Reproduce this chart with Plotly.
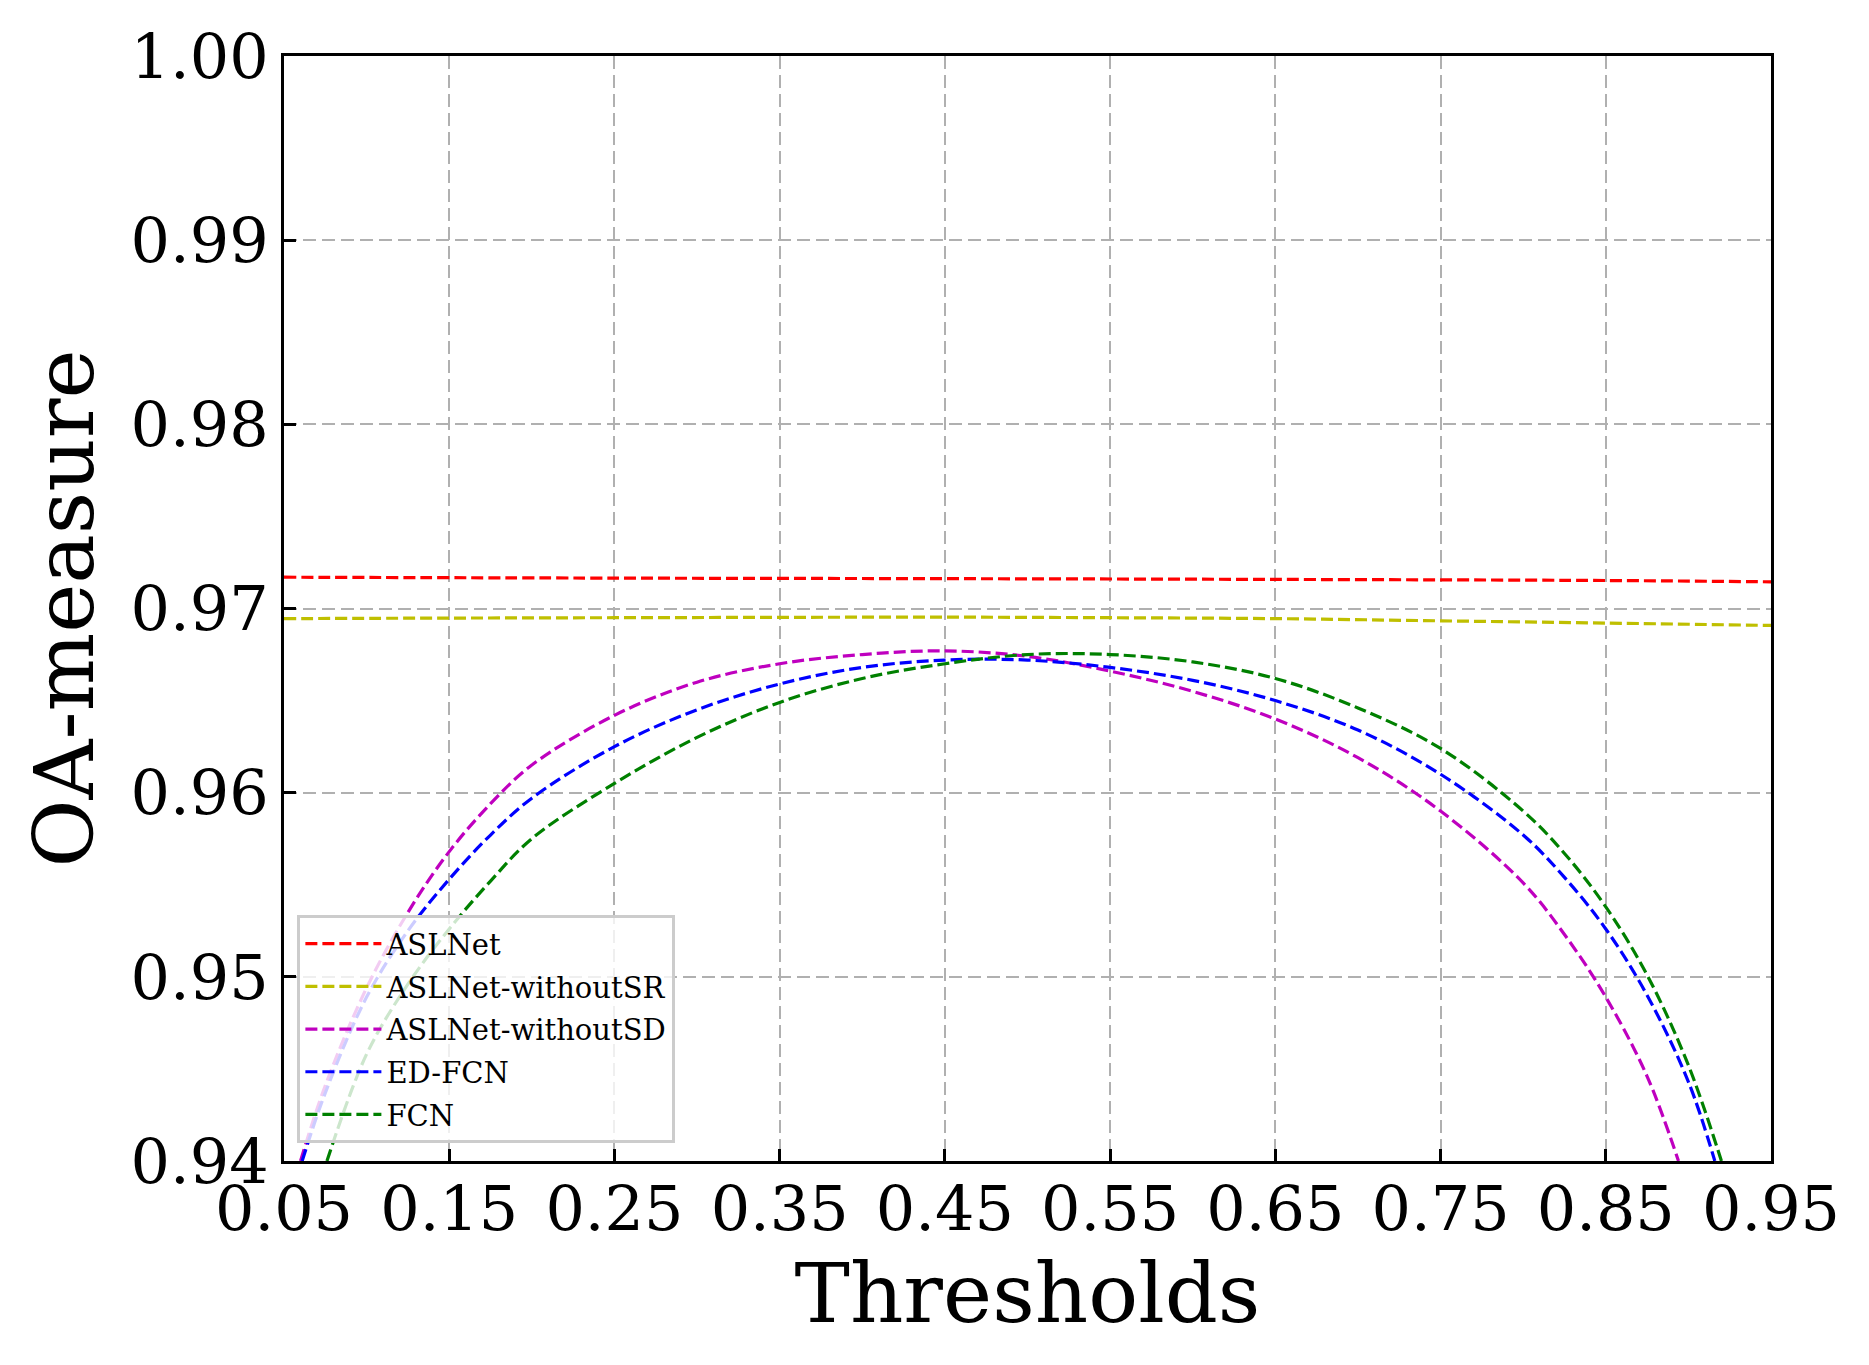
"""OA-measure vs threshold curves for the ASLNet ablation, redrawn with Plotly."""

import plotly.graph_objects as go

# ---- data ----
aslnet_x = [0.05, 0.25, 0.45, 0.65, 0.85, 0.95]
aslnet_y = [0.97170, 0.97165, 0.97162, 0.97158, 0.97152, 0.97145]

without_sr_x = [0.05, 0.15, 0.25, 0.35, 0.45, 0.55, 0.65, 0.75, 0.85, 0.95]
without_sr_y = [0.96945, 0.96948, 0.96950, 0.96952, 0.96953, 0.96950,
                0.96945, 0.96933, 0.96921, 0.96908]

without_sd_x = [0.060, 0.075, 0.10, 0.125, 0.15, 0.175, 0.20, 0.25, 0.30, 0.35,
                0.40, 0.45, 0.50, 0.55, 0.60, 0.65, 0.70, 0.75, 0.80, 0.825,
                0.85, 0.875, 0.894]
without_sd_y = [0.9400, 0.9441, 0.9494, 0.9535, 0.9568, 0.9594, 0.9615, 0.9642,
                0.9660, 0.9670, 0.9675, 0.9677, 0.9674, 0.9666, 0.9655, 0.9640,
                0.9619, 0.9590, 0.9551, 0.9523, 0.9489, 0.9446, 0.9400]

ed_fcn_x = [0.061, 0.075, 0.10, 0.125, 0.15, 0.175, 0.20, 0.25, 0.30, 0.35,
            0.40, 0.45, 0.50, 0.55, 0.60, 0.65, 0.70, 0.75, 0.80, 0.825,
            0.85, 0.875, 0.90, 0.916]
ed_fcn_y = [0.9400, 0.9437, 0.9489, 0.9525, 0.9553, 0.9577, 0.9597, 0.9625,
            0.9645, 0.9659, 0.9668, 0.9672, 0.9672, 0.9668, 0.9661, 0.9650,
            0.9634, 0.9610, 0.9577, 0.9554, 0.9526, 0.9490, 0.9443, 0.9400]

fcn_x = [0.076, 0.10, 0.125, 0.15, 0.175, 0.20, 0.25, 0.30, 0.35, 0.40,
         0.45, 0.50, 0.55, 0.60, 0.65, 0.70, 0.75, 0.80, 0.825, 0.85,
         0.875, 0.90, 0.92]
fcn_y = [0.9400, 0.9458, 0.9496, 0.9526, 0.9552, 0.9575, 0.9605, 0.9630,
         0.9649, 0.9662, 0.9670, 0.9675, 0.9675, 0.9671, 0.9662, 0.9646,
         0.9624, 0.9590, 0.9567, 0.9538, 0.9501, 0.9452, 0.9400]

x_ticks = [0.05, 0.15, 0.25, 0.35, 0.45, 0.55, 0.65, 0.75, 0.85, 0.95]
y_ticks = [0.94, 0.95, 0.96, 0.97, 0.98, 0.99, 1.00]

series = [
    ("ASLNet", aslnet_x, aslnet_y, "#ff0000"),
    ("ASLNet-withoutSR", without_sr_x, without_sr_y, "#bfbf00"),
    ("ASLNet-withoutSD", without_sd_x, without_sd_y, "#bf00bf"),
    ("ED-FCN", ed_fcn_x, ed_fcn_y, "#0000ff"),
    ("FCN", fcn_x, fcn_y, "#008000"),
]

FONT = "DejaVu Serif"

fig = go.Figure()
for name, xs, ys, color in series:
    fig.add_trace(
        go.Scatter(
            x=xs,
            y=ys,
            name=name,
            legendgroup=name,
            mode="lines",
            line=dict(color=color, width=3.2, dash="12px,5px", shape="spline"),
        )
    )

axis_common = dict(
    showline=True,
    linecolor="black",
    linewidth=3,
    mirror=True,
    ticks="inside",
    ticklen=12,
    tickwidth=3,
    tickcolor="black",
    showgrid=True,
    gridcolor="#b0b0b0",
    gridwidth=2,
    griddash="13px,6px",
    zeroline=False,
    tickfont=dict(family=FONT, size=62, color="black"),
    tickformat=".2f",
)

fig.update_layout(
    width=1869,
    height=1365,
    margin=dict(l=276, r=106, t=48, b=212),
    paper_bgcolor="white",
    plot_bgcolor="white",
    font=dict(family=FONT, color="black"),
    xaxis=dict(
        axis_common,
        range=[0.05, 0.95],
        tickvals=x_ticks,
        ticklabelstandoff=-8,
        title=dict(text="Thresholds", font=dict(family=FONT, size=83), standoff=4),
    ),
    yaxis=dict(
        axis_common,
        range=[0.94, 1.00],
        tickvals=y_ticks,
        title=dict(text="OA-measure", font=dict(family=FONT, size=83), standoff=10),
    ),
    legend=dict(
        x=0.009,
        y=0.016,
        xanchor="left",
        yanchor="bottom",
        bgcolor="rgba(255,255,255,0.8)",
        bordercolor="#cccccc",
        borderwidth=3,
        font=dict(family=FONT, size=29, color="black"),
        itemwidth=76,
        tracegroupgap=2,
    ),
)

fig.write_html("out.html")
